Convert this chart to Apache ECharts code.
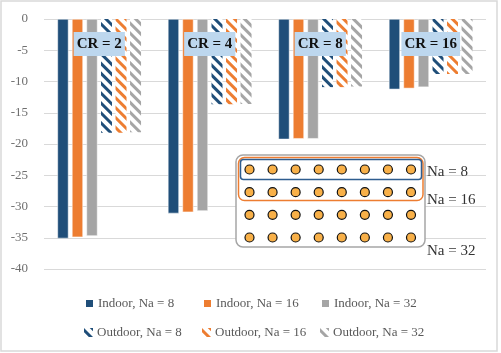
<!DOCTYPE html>
<html>
<head>
<meta charset="utf-8">
<script src="https://cdn.jsdelivr.net/npm/echarts@6/dist/echarts.min.js"></script>
<style>
  html, body { margin: 0; padding: 0; background: #fff; }
  #main { width: 501px; height: 353px; }
</style>
</head>
<body>
<div id="main"></div>
<script>
// data
const categories = ['CR = 2', 'CR = 4', 'CR = 8', 'CR = 16'];
const indoorNa8 = [-35.1, -31.1, -19.25, -11.25];
const indoorNa16 = [-34.9, -30.9, -19.15, -11.1];
const indoorNa32 = [-34.7, -30.7, -19.15, -10.9];
const outdoorNa8 = [-18.2, -13.65, -10.9, -8.8];
const outdoorNa16 = [-18.2, -13.65, -10.9, -8.8];
const outdoorNa32 = [-18.1, -13.6, -10.8, -8.8];
const crLabelValue = [-4, -4, -4, -4];

// antenna array sketch (inset)
const insetCols = [0, 1, 2, 3, 4, 5, 6, 7];
const insetRows = [0, 1, 2, 3];
const insetLabels = ['Na = 8', 'Na = 16', 'Na = 32'];

const serif = 'Liberation Serif';
const blue = '#1f4e79';
const orange = '#ed7d31';
const gray = '#a5a5a5';

const seriesDefs = [
  { name: 'Indoor, Na = 8', data: indoorNa8, color: blue, hatch: false },
  { name: 'Indoor, Na = 16', data: indoorNa16, color: orange, hatch: false },
  { name: 'Indoor, Na = 32', data: indoorNa32, color: gray, hatch: false },
  { name: 'Outdoor, Na = 8', data: outdoorNa8, color: blue, hatch: true },
  { name: 'Outdoor, Na = 16', data: outdoorNa16, color: orange, hatch: true },
  { name: 'Outdoor, Na = 32', data: outdoorNa32, color: gray, hatch: true },
];

const barSeries = seriesDefs.map((s) => ({
  name: s.name,
  type: 'bar',
  data: s.data,
  barWidth: 11,
  barGap: '32%',
  itemStyle: s.hatch
    ? {
        color: '#fff',
        decal: {
          symbol: 'rect',
          symbolSize: 1,
          color: s.color,
          dashArrayX: [1, 0],
          dashArrayY: [2.5, 3.2],
          rotation: Math.PI / 4,
        },
      }
    : { color: s.color, borderColor: '#fff', borderWidth: 0.5 },
}));

// legend: two rows of three, aligned in columns
const legendCols = [79, 197, 315];
const legendRows = [292, 321];
const legends = seriesDefs.map((s, i) => ({
  data: [s.name],
  left: legendCols[i % 3],
  top: legendRows[Math.floor(i / 3)],
  icon: 'rect',
  itemWidth: 9,
  itemHeight: 9,
  selectedMode: false,
  textStyle: { fontFamily: serif, fontSize: 13, color: '#595959', padding: [0, 0, 0, -1] },
}));

const insetData = [];
insetRows.forEach((r) => insetCols.forEach((c) => insetData.push([c, r])));

const chart = echarts.init(document.getElementById('main'));
chart.setOption({
  animation: false,
  legend: legends,
  grid: [
    { left: 44, right: 15, top: 19, bottom: 84 },
    { left: 249.5, top: 169.5, width: 161.5, height: 68 },
  ],
  xAxis: [
    {
      type: 'category',
      data: categories,
      axisLine: { show: false },
      axisTick: { show: false },
      axisLabel: { show: false },
    },
    { type: 'value', gridIndex: 1, min: 0, max: 7, show: false },
  ],
  yAxis: [
    {
      type: 'value',
      min: -40,
      max: 0,
      interval: 5,
      axisLine: { show: false },
      axisTick: { show: false },
      axisLabel: { color: '#6f6f6f', fontFamily: serif, fontSize: 13, margin: 16 },
      splitLine: { lineStyle: { color: '#d9d9d9', width: 1 } },
    },
    { type: 'value', gridIndex: 1, min: 0, max: 3, inverse: true, show: false },
  ],
  series: [
    ...barSeries,
    {
      name: 'crLabels',
      type: 'scatter',
      data: crLabelValue,
      symbolSize: 0,
      z: 6,
      silent: true,
      itemStyle: { opacity: 1 },
      label: {
        show: true,
        position: 'inside',
        opacity: 1,
        formatter: (p) => categories[p.dataIndex],
        backgroundColor: '#bdd7ee',
        color: '#111',
        fontFamily: serif,
        fontWeight: 'bold',
        fontSize: 15,
        padding: [5, 3, 4, 3],
      },
    },
    {
      name: 'inset',
      type: 'scatter',
      xAxisIndex: 1,
      yAxisIndex: 1,
      data: insetData,
      symbolSize: 9,
      z: 6,
      silent: true,
      itemStyle: { color: '#f8b048', borderColor: '#111', borderWidth: 1.2, opacity: 1 },
    },
  ],
  graphic: [
    {
      type: 'rect',
      z: -1,
      shape: { x: 1, y: 1, width: 496, height: 350 },
      style: { fill: 'none', stroke: '#d9d9d9', lineWidth: 1.5 },
    },
    {
      type: 'rect',
      z: 3,
      shape: { x: 236, y: 155, width: 189, height: 92, r: 7 },
      style: { fill: '#fff', stroke: '#a6a6a6', lineWidth: 1.5 },
    },
    {
      type: 'rect',
      z: 4,
      shape: { x: 238.5, y: 157.5, width: 184.5, height: 43, r: 6 },
      style: { fill: 'none', stroke: orange, lineWidth: 1.5 },
    },
    {
      type: 'rect',
      z: 4,
      shape: { x: 240.5, y: 159.5, width: 181, height: 20, r: 3 },
      style: { fill: 'none', stroke: '#2e5d8f', lineWidth: 1.5 },
    },
    {
      type: 'text',
      z: 4,
      left: 427,
      top: 165,
      style: { text: insetLabels[0], font: '15px "Liberation Serif"', fill: '#333' },
    },
    {
      type: 'text',
      z: 4,
      left: 427,
      top: 193,
      style: { text: insetLabels[1], font: '15px "Liberation Serif"', fill: '#333' },
    },
    {
      type: 'text',
      z: 4,
      left: 427,
      top: 244,
      style: { text: insetLabels[2], font: '15px "Liberation Serif"', fill: '#333' },
    },
  ],
});
</script>
</body>
</html>
